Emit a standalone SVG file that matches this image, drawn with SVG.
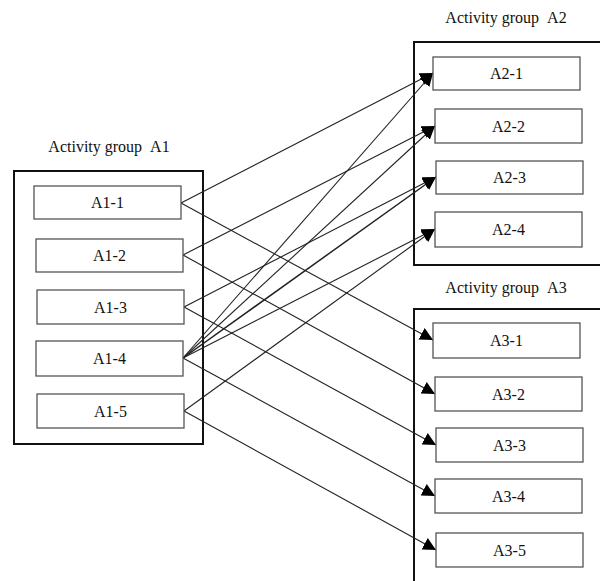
<svg xmlns="http://www.w3.org/2000/svg" width="600" height="581" viewBox="0 0 600 581">
<defs>
<marker id="arr" viewBox="0 0 12 12" refX="12" refY="6" markerWidth="13" markerHeight="13" markerUnits="userSpaceOnUse" orient="auto">
<path d="M0,0 L12,6 L0,12 Z" fill="#000"/>
</marker>
<style>
.grp{fill:none;stroke:#111;stroke-width:2}
.box{fill:#fff;stroke:#555;stroke-width:1.3}
.t{font-family:"Liberation Serif","Times New Roman",serif;font-size:16px;fill:#111;text-anchor:middle}
.c{stroke:#222;stroke-width:1.1;fill:none;marker-end:url(#arr)}
</style>
</defs>
<rect width="600" height="581" fill="#fff"/>
<g id="groupA1">
<rect class="grp" x="14" y="171" width="189" height="273"/>
<text class="t" x="109" y="152">Activity group&#160;&#160;A1</text>
</g>
<g id="groupA2">
<rect class="grp" x="414" y="42" width="200" height="223"/>
<text class="t" x="506" y="23">Activity group&#160;&#160;A2</text>
</g>
<g id="groupA3">
<rect class="grp" x="414" y="309" width="200" height="290"/>
<text class="t" x="506" y="293">Activity group&#160;&#160;A3</text>
</g>
<g id="connectors">
<line class="c" x1="181" y1="203" x2="433" y2="73"/>
<line class="c" x1="181" y1="203" x2="433" y2="340"/>
<line class="c" x1="183" y1="255" x2="435" y2="126"/>
<line class="c" x1="183" y1="255" x2="435" y2="394"/>
<line class="c" x1="184" y1="307" x2="436" y2="177"/>
<line class="c" x1="184" y1="307" x2="436" y2="445"/>
<line class="c" x1="183" y1="358" x2="433" y2="73"/>
<line class="c" x1="183" y1="358" x2="435" y2="126"/>
<line class="c" x1="183" y1="358" x2="436" y2="177" style="stroke-width:1.5"/>
<line class="c" x1="183" y1="358" x2="435" y2="229"/>
<line class="c" x1="183" y1="358" x2="435" y2="496"/>
<line class="c" x1="184" y1="411" x2="435" y2="229"/>
<line class="c" x1="184" y1="411" x2="436" y2="550"/>
</g>
<g id="A1-1"><rect class="box" x="34" y="186" width="147" height="33"/><text class="t" x="107.5" y="208">A1-1</text></g>
<g id="A1-2"><rect class="box" x="36" y="239" width="147" height="33"/><text class="t" x="109.5" y="261">A1-2</text></g>
<g id="A1-3"><rect class="box" x="37" y="290" width="147" height="34"/><text class="t" x="110.5" y="313">A1-3</text></g>
<g id="A1-4"><rect class="box" x="36" y="341" width="147" height="35"/><text class="t" x="109.5" y="364">A1-4</text></g>
<g id="A1-5"><rect class="box" x="37" y="394" width="147" height="34"/><text class="t" x="110.5" y="417">A1-5</text></g>
<g id="A2-1"><rect class="box" x="433" y="57" width="147" height="33"/><text class="t" x="506.5" y="79">A2-1</text></g>
<g id="A2-2"><rect class="box" x="435" y="109" width="147" height="34"/><text class="t" x="508.5" y="132">A2-2</text></g>
<g id="A2-3"><rect class="box" x="436" y="161" width="147" height="33"/><text class="t" x="509.5" y="183">A2-3</text></g>
<g id="A2-4"><rect class="box" x="435" y="212" width="147" height="35"/><text class="t" x="508.5" y="235">A2-4</text></g>
<g id="A3-1"><rect class="box" x="433" y="323" width="147" height="35"/><text class="t" x="506.5" y="346">A3-1</text></g>
<g id="A3-2"><rect class="box" x="435" y="377" width="147" height="34"/><text class="t" x="508.5" y="400">A3-2</text></g>
<g id="A3-3"><rect class="box" x="436" y="428" width="147" height="34"/><text class="t" x="509.5" y="451">A3-3</text></g>
<g id="A3-4"><rect class="box" x="435" y="479" width="147" height="34"/><text class="t" x="508.5" y="502">A3-4</text></g>
<g id="A3-5"><rect class="box" x="436" y="533" width="147" height="34"/><text class="t" x="509.5" y="556">A3-5</text></g>
</svg>
